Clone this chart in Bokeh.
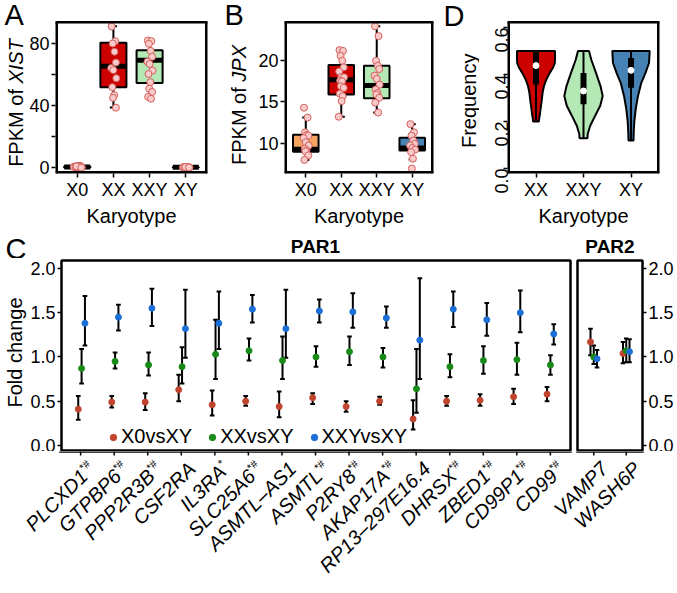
from math import pi
from bokeh.plotting import figure
from bokeh.models import Legend, LegendItem, FixedTicker, Range1d, NumeralTickFormatter, ColumnDataSource
from bokeh.core.properties import value
from bokeh.layouts import row, column
from bokeh.embed import file_html
from bokeh.resources import INLINE

FONT = "Liberation Sans"

# ---------------- data ----------------
karyo4 = ["X0", "XX", "XXY", "XY"]
karyo3 = ["XX", "XXY", "XY"]

# Panel A: FPKM of XIST (samples)
xist_X0 = [0.6, 1.2, 0.3, 0.9, 0.1, 0.5, 1.0, 0.2, 0.7, 0.4, 0.8, 0.0]
xist_XX = [91.2, 81.7, 80.2, 74.9, 67.9, 64.3, 63.0, 57.8, 52.0, 46.8, 45.1, 38.7]
xist_XXY = [82.1, 81.7, 80.0, 75.4, 71.6, 68.4, 66.9, 62.7, 60.5, 55.2, 51.0, 48.9, 45.7, 44.5]
xist_XY = [0.2, 0.4, 0.1, 0.3, 0.0, 0.2, 0.5, 0.1, 0.3, 0.2, 0.4, 0.1]
xist_lo = [0.0, 38.9, 44.6, 0.0]
xist_q1 = [0.1, 52.0, 54.6, 0.1]
xist_med = [0.4, 65.5, 69.4, 0.2]
xist_q3 = [0.8, 80.6, 75.8, 0.3]
xist_hi = [1.2, 91.4, 82.1, 0.5]

# Panel B: FPKM of JPX (samples)
jpx_X0 = [14.3, 13.1, 11.3, 11.0, 10.9, 10.6, 10.1, 9.7, 9.3, 9.1, 9.0, 8.5, 7.95]
jpx_XX = [21.3, 21.2, 20.6, 20.0, 19.2, 18.7, 18.0, 18.0, 17.6, 17.5, 16.9, 16.7, 16.0, 15.7, 15.1, 13.2]
jpx_XXY = [24.2, 23.0, 20.0, 19.4, 19.0, 18.2, 17.8, 17.1, 16.5, 16.1, 15.9, 15.5, 14.9, 13.7]
jpx_XY = [12.3, 11.3, 10.9, 10.3, 9.9, 9.7, 9.4, 9.2, 8.9, 8.1, 6.9]
jpx_lo = [7.95, 13.2, 13.7, 8.0]
jpx_q1 = [8.95, 15.9, 15.45, 9.1]
jpx_med = [9.25, 17.7, 17.0, 9.4]
jpx_q3 = [11.0, 19.5, 19.4, 10.65]
jpx_hi = [13.1, 21.3, 24.2, 12.3]

# Panel D: violin profiles of frequency (level, half width)
vio_XX_lev = [0.20, 0.21, 0.225, 0.255, 0.282, 0.32, 0.351, 0.38, 0.407, 0.43, 0.449, 0.47, 0.50]
vio_XX_w = [0.06, 0.065, 0.078, 0.097, 0.116, 0.137, 0.168, 0.22, 0.29, 0.36, 0.396, 0.40, 0.40]
vio_XXY_lev = [0.129, 0.147, 0.182, 0.225, 0.267, 0.309, 0.351, 0.407, 0.463, 0.50]
vio_XXY_w = [0.084, 0.088, 0.141, 0.246, 0.352, 0.404, 0.358, 0.263, 0.164, 0.116]
vio_XY_lev = [0.119, 0.154, 0.197, 0.253, 0.309, 0.365, 0.407, 0.449, 0.50]
vio_XY_w = [0.053, 0.057, 0.069, 0.099, 0.147, 0.217, 0.305, 0.379, 0.394]
freq_min = [0.20, 0.129, 0.119]
freq_q1 = [0.358, 0.274, 0.344]
freq_med = [0.438, 0.33, 0.418]
freq_q3 = [0.498, 0.407, 0.47]
freq_max = [0.50, 0.50, 0.50]

# Panel C: fold change (PAR1)
par1_genes = ["PLCXD1", "GTPBP6", "PPP2R3B", "CSF2RA", "IL3RA", "SLC25A6", "ASMTL–AS1", "ASMTL",
              "P2RY8", "AKAP17A", "RP13–297E16.4", "DHRSX", "ZBED1", "CD99P1", "CD99"]
par1_marks = ["*#", "*#", "*#", "", "*", "*#", "", "*#", "*#", "*#", "", "*#", "*#", "*#", "*#"]
x0_fc = [0.41, 0.49, 0.49, 0.63, 0.46, 0.50, 0.44, 0.54, 0.44, 0.50, 0.30, 0.50, 0.51, 0.55, 0.58]
x0_lo = [0.29, 0.43, 0.40, 0.50, 0.34, 0.45, 0.32, 0.47, 0.38, 0.46, 0.18, 0.45, 0.45, 0.47, 0.50]
x0_hi = [0.56, 0.56, 0.59, 0.80, 0.62, 0.56, 0.61, 0.59, 0.50, 0.55, 0.51, 0.56, 0.58, 0.64, 0.66]
xx_fc = [0.87, 0.95, 0.91, 0.89, 1.03, 1.07, 0.96, 1.00, 1.06, 1.00, 0.64, 0.89, 0.96, 0.97, 0.91]
xx_lo = [0.70, 0.87, 0.79, 0.70, 0.75, 0.96, 0.75, 0.89, 0.91, 0.88, 0.37, 0.77, 0.81, 0.80, 0.80]
xx_hi = [1.09, 1.05, 1.05, 1.11, 1.42, 1.21, 1.23, 1.12, 1.23, 1.10, 1.09, 1.03, 1.12, 1.16, 1.02]
xxy_fc = [1.38, 1.45, 1.55, 1.32, 1.38, 1.54, 1.32, 1.52, 1.51, 1.44, 1.19, 1.54, 1.42, 1.50, 1.26]
xxy_lo = [1.13, 1.30, 1.35, 0.99, 1.09, 1.39, 0.99, 1.39, 1.33, 1.33, 0.75, 1.34, 1.24, 1.28, 1.14]
xxy_hi = [1.69, 1.59, 1.77, 1.76, 1.74, 1.70, 1.76, 1.65, 1.72, 1.57, 1.89, 1.74, 1.61, 1.75, 1.37]

# Panel C: fold change (PAR2)
par2_genes = ["VAMP7", "WASH6P"]
par2_marks = ["", ""]
p2_x0_fc = [1.17, 1.04]
p2_x0_lo = [1.02, 0.93]
p2_x0_hi = [1.32, 1.17]
p2_xx_fc = [1.00, 1.07]
p2_xx_lo = [0.92, 0.94]
p2_xx_hi = [1.13, 1.21]
p2_xxy_fc = [0.98, 1.06]
p2_xxy_lo = [0.88, 0.94]
p2_xxy_hi = [1.08, 1.20]

series_names = ["X0vsXY", "XXvsXY", "XXYvsXY"]

# ---------------- style ----------------
BOX4 = ["#F4A460", "#CD0000", "#B4E8B4", "#4682B4"]
VIO3 = ["#CD0000", "#B4E8B4", "#4682B4"]
SER3 = ["#C0442E", "#178A17", "#1C6FD6"]
PT_FILL = "#F9CACA"
PT_LINE = "#D4605C"
JIT = [-0.05, 0.05, -0.02, 0.03, 0.07, -0.06, 0.0, 0.08, -0.03, 0.02, -0.01, 0.07, -0.04, 0.04, 0.01, -0.07]

# layout geometry (pixels)
TOP_H = 229
TOP_BOTTOM = 53          # space for x-axis below the top panels
PANEL_TOP = 22           # where the top panels' boxes start
PANEL_H = TOP_H - TOP_BOTTOM - PANEL_TOP
MID_H = 29
C_H = 193
BOT_H = 593 - TOP_H - MID_H - C_H
C1_FRAME = (60, 570)
C2_FRAME = (577, 642)
C1_XR = (0.4, 15.6)
C2_XR = (0.5, 2.5)

A_XR, A_YR = (0.4, 4.6), (-3.8, 94)
B_XR, B_YR = (0.4, 4.6), (6.3, 24.7)
D_XR, D_YR = (0.4, 3.6), (-0.021, 0.623)


def extend_top(yr):
    # frame reaches the canvas top; the panel box itself starts PANEL_TOP px lower
    return (yr[0], yr[1] + (yr[1] - yr[0]) * PANEL_TOP / PANEL_H)


def base(width, height, xr, yr, left, right, top, bottom, yloc="left", xloc="below", title=None):
    kw = dict(width=width, height=height, x_range=Range1d(*xr), y_range=Range1d(*yr),
              output_backend="svg", toolbar_location=None,
              min_border_left=left, min_border_right=right, min_border_top=top,
              min_border_bottom=bottom, y_axis_location=yloc, x_axis_location=xloc)
    if title is not None:
        kw["title"] = title
    p = figure(**kw)
    p.xgrid.visible = False
    p.ygrid.visible = False
    p.outline_line_color = "black"
    p.outline_line_width = 2.5
    p.background_fill_color = "white"
    p.border_fill_color = "white"
    for ax in p.axis:
        ax.axis_line_color = None
        ax.major_tick_line_color = "black"
        ax.major_tick_line_width = 1.5
        ax.major_tick_in = 0
        ax.major_tick_out = 4
        ax.minor_tick_line_color = None
        ax.major_label_text_font = FONT
        ax.major_label_text_font_size = "18px"
        ax.major_label_text_color = "black"
        ax.major_label_standoff = 2
        ax.axis_label_text_font = FONT
        ax.axis_label_text_font_size = "20px"
        ax.axis_label_text_font_style = "normal"
        ax.axis_label_text_color = "black"
        ax.axis_label_standoff = 2
    return p


def panel_box(p, xr, yr):
    p.outline_line_color = None
    p.segment(x0=[xr[0]], y0=[yr[1]], x1=[xr[1]], y1=[yr[1]], line_color="black",
              line_width=2.5, line_cap="square")
    p.segment(x0=[xr[0], xr[1], xr[0]], y0=[yr[0], yr[0], yr[0]],
              x1=[xr[0], xr[1], xr[1]], y1=[yr[1], yr[1], yr[0]], line_color="black", line_width=5)


def strip(w, h, xr=None, top=0, bottom=0):
    # a text-only strip; y is measured in pixels from the canvas bottom edge
    p = figure(width=w, height=h, x_range=Range1d(*(xr if xr else (0, w))),
               y_range=Range1d(bottom, h - top), output_backend="svg", toolbar_location=None,
               x_axis_location=None, y_axis_location=None, min_border=0,
               min_border_top=top, min_border_bottom=bottom, min_border_left=0, min_border_right=0)
    p.grid.visible = False
    p.outline_line_color = None
    p.background_fill_color = "white"
    p.border_fill_color = "white"
    return p


def stext(p, x, ytop, t, size, align="left", baseline="middle", angle=0.0, style="normal"):
    p.text(x=[x], y=[p.height - ytop], text=[t], angle=angle, text_align=align, text_baseline=baseline,
           text_font=value(FONT), text_font_size=value(size), text_font_style=style,
           text_color="black")


def boxplot(p, lo, q1, med, q3, hi, groups, colors, bw=0.72, cw=0.1):
    xs = [i + 1 for i in range(len(groups))]
    p.segment(x0=xs, y0=q3, x1=xs, y1=hi, line_color="black", line_width=2)
    p.segment(x0=xs, y0=q1, x1=xs, y1=lo, line_color="black", line_width=2)
    p.segment(x0=[x - cw for x in xs], y0=hi, x1=[x + cw for x in xs], y1=hi, line_color="black", line_width=2)
    p.segment(x0=[x - cw for x in xs], y0=lo, x1=[x + cw for x in xs], y1=lo, line_color="black", line_width=2)
    p.vbar(x=xs, bottom=q1, top=q3, width=bw, fill_color=colors, line_color="black", line_width=2)
    p.segment(x0=[x - bw / 2 for x in xs], y0=med, x1=[x + bw / 2 for x in xs], y1=med,
              line_color="black", line_width=5)


def points(p, k, vals, spread=1.0):
    xs = [k + JIT[i % len(JIT)] * spread for i in range(len(vals))]
    p.scatter(x=xs, y=vals, size=7, fill_color=PT_FILL, line_color=PT_LINE, line_width=1)


def cat_xaxis(p, cats):
    p.xaxis.ticker = FixedTicker(ticks=[i + 1 for i in range(len(cats))])
    p.xaxis.major_label_overrides = {i + 1: c for i, c in enumerate(cats)}
    p.xaxis.axis_label = "Karyotype"


# ---------------- Panel A ----------------
sA = strip(26, TOP_H, bottom=TOP_BOTTOM)
stext(sA, 4, 15, "A", "29px")
stext(sA, 15, 84.5 + 5.6, "FPKM of", "20px", align="right", angle=pi / 2)
stext(sA, 15, 84.5, "XIST", "20px", align="left", angle=pi / 2, style="italic")

fa = base(191, TOP_H, A_XR, extend_top(A_YR), 26, 10, 0, TOP_BOTTOM)
cat_xaxis(fa, karyo4)
fa.yaxis.ticker = FixedTicker(ticks=[0, 40, 80], minor_ticks=[20, 60])
fa.yaxis.minor_tick_line_color = "black"
fa.yaxis.minor_tick_line_width = 1.5
fa.yaxis.minor_tick_in = 0
fa.yaxis.minor_tick_out = 4
boxplot(fa, xist_lo, xist_q1, xist_med, xist_q3, xist_hi, karyo4, BOX4)
points(fa, 1, xist_X0, 1.6)
points(fa, 2, xist_XX)
points(fa, 3, xist_XXY)
points(fa, 4, xist_XY, 1.3)
panel_box(fa, A_XR, A_YR)

# ---------------- Panel B ----------------
sB = strip(38, TOP_H, bottom=TOP_BOTTOM)
stext(sB, 7, 15, "B", "29px")
stext(sB, 21, 82.6 + 5.6, "FPKM of", "20px", align="right", angle=pi / 2)
stext(sB, 21, 82.6, "JPX", "20px", align="left", angle=pi / 2, style="italic")

fb = base(185, TOP_H, B_XR, extend_top(B_YR), 27, 7, 0, TOP_BOTTOM)
cat_xaxis(fb, karyo4)
fb.yaxis.ticker = FixedTicker(ticks=[10, 15, 20])
boxplot(fb, jpx_lo, jpx_q1, jpx_med, jpx_q3, jpx_hi, karyo4, BOX4)
points(fb, 1, jpx_X0)
points(fb, 2, jpx_XX)
points(fb, 3, jpx_XXY)
points(fb, 4, jpx_XY)
panel_box(fb, B_XR, B_YR)

# ---------------- Panel D ----------------
sD = strip(39, TOP_H, bottom=TOP_BOTTOM)
stext(sD, 3, 16, "D", "29px")
stext(sD, 28, 102, "Frequency", "20px", align="center", angle=pi / 2)

fd = base(198, TOP_H, D_XR, extend_top(D_YR), 28, 18, 0, TOP_BOTTOM)
cat_xaxis(fd, karyo3)
fd.yaxis.ticker = FixedTicker(ticks=[0.0, 0.2, 0.4, 0.6])
fd.yaxis.formatter = NumeralTickFormatter(format="0.0")
fd.yaxis.major_label_orientation = pi / 2
profiles = [(vio_XX_lev, vio_XX_w), (vio_XXY_lev, vio_XXY_w), (vio_XY_lev, vio_XY_w)]
for k, (lev, w) in enumerate(profiles):
    c = k + 1
    xs = [c - h for h in w] + [c + h for h in reversed(w)]
    ys = list(lev) + list(reversed(lev))
    fd.patch(x=xs, y=ys, fill_color=VIO3[k], line_color="black", line_width=2)
dx = [1, 2, 3]
fd.segment(x0=dx, y0=freq_min, x1=dx, y1=freq_max, line_color="black", line_width=2)
fd.segment(x0=dx, y0=freq_q1, x1=dx, y1=freq_q3, line_color="black", line_width=6)
fd.scatter(x=dx, y=freq_med, size=6, fill_color="white", line_color="white")
panel_box(fd, D_XR, D_YR)


# ---------------- Panel C ----------------
def fc_panel(p, n, data, dodge=0.1, cw=0.07):
    rends = []
    for k, (v, lo, hi) in enumerate(data):
        xs = [i + 1 + (k - 1) * dodge for i in range(n)]
        p.segment(x0=xs, y0=lo, x1=xs, y1=hi, line_color="black", line_width=2)
        p.segment(x0=[x - cw for x in xs], y0=hi, x1=[x + cw for x in xs], y1=hi, line_color="black", line_width=2)
        p.segment(x0=[x - cw for x in xs], y0=lo, x1=[x + cw for x in xs], y1=lo, line_color="black", line_width=2)
    for k, (v, lo, hi) in enumerate(data):
        xs = [i + 1 + (k - 1) * dodge for i in range(n)]
        r = p.scatter(x=xs, y=v, size=6, fill_color=SER3[k], line_color=SER3[k])
        rends.append(r)
    p.yaxis.ticker = FixedTicker(ticks=[0.0, 0.5, 1.0, 1.5, 2.0])
    p.yaxis.formatter = NumeralTickFormatter(format="0.0")
    return rends


YR = (-0.068, 2.09)

# strip above panel C: letter and facet titles
sTop = strip(677, MID_H)
stext(sTop, 5, 3, "C", "29px", baseline="top")
stext(sTop, (C1_FRAME[0] + C1_FRAME[1]) / 2, 6, "PAR1", "19px", align="center", baseline="top", style="bold")
stext(sTop, (C2_FRAME[0] + C2_FRAME[1]) / 2, 6, "PAR2", "19px", align="center", baseline="top", style="bold")

sFC = strip(27, C_H, top=2)
stext(sFC, 14, 94, "Fold change", "20px", align="center", angle=pi / 2)

fc1 = base(546, C_H, C1_XR, YR, C1_FRAME[0] - 27, 573 - C1_FRAME[1], 2, 0, xloc=None)
r1 = fc_panel(fc1, 15, [(x0_fc, x0_lo, x0_hi), (xx_fc, xx_lo, xx_hi), (xxy_fc, xxy_lo, xxy_hi)])
legend = Legend(items=[LegendItem(label=series_names[k], renderers=[r1[k]]) for k in range(3)],
                location=(44, 3), orientation="horizontal", background_fill_alpha=0,
                border_line_color=None, label_text_font=FONT, label_text_font_size="20px",
                label_text_color="black", glyph_width=16, glyph_height=20, label_height=20,
                label_standoff=0, spacing=12, padding=0, margin=0)
fc1.add_layout(legend)

fc2 = base(104, C_H, C2_XR, YR, C2_FRAME[0] - 573, 677 - C2_FRAME[1], 2, 0, yloc="right", xloc=None)
fc_panel(fc2, 2, [(p2_x0_fc, p2_x0_lo, p2_x0_hi), (p2_xx_fc, p2_xx_lo, p2_xx_hi),
                  (p2_xxy_fc, p2_xxy_lo, p2_xxy_hi)])

# strip below panel C: frame bottom edge, ticks and gene labels (x in PAR1 data units)
k1 = (C1_FRAME[1] - C1_FRAME[0]) / (C1_XR[1] - C1_XR[0])
k2 = (C2_FRAME[1] - C2_FRAME[0]) / (C2_XR[1] - C2_XR[0])
bot_xr = (C1_XR[0] - C1_FRAME[0] / k1, C1_XR[1] + (677 - C1_FRAME[1]) / k1)


def c2_to_c1(x):
    px = C2_FRAME[0] + (x - C2_XR[0]) * k2
    return C1_XR[0] + (px - C1_FRAME[0]) / k1


sBot = strip(677, BOT_H, bot_xr)
H = BOT_H
sBot.segment(x0=[C1_XR[0], c2_to_c1(C2_XR[0])], y0=[H, H], x1=[C1_XR[1], c2_to_c1(C2_XR[1])], y1=[H, H],
             line_color="black", line_width=2.5, line_cap="square")
gx = [i + 1 for i in range(len(par1_genes))] + [c2_to_c1(j + 1) for j in range(len(par2_genes))]
sBot.segment(x0=gx, y0=[H] * len(gx), x1=gx, y1=[H - 4] * len(gx), line_color="black", line_width=1.5)
names = par1_genes + par2_genes
marks = par1_marks + par2_marks
SUPW = {"*#": 10.4, "*": 4.3}
d = [SUPW.get(m, 0.0) * 0.7071 for m in marks]
src_main = ColumnDataSource(dict(x=gx, y=[H - 6] * len(gx), text=names,
                                 xo=[3 - v for v in d], yo=[v for v in d]))
sBot.text(x="x", y="y", text="text", x_offset="xo", y_offset="yo", source=src_main, angle=pi / 4,
          text_align="right", text_baseline="top", text_font=value(FONT), text_font_size=value("20px"),
          text_font_style="italic", text_color="black")
sup_idx = [i for i, m in enumerate(marks) if m]
src_sup = ColumnDataSource(dict(x=[gx[i] for i in sup_idx], y=[H - 6] * len(sup_idx),
                                text=[marks[i] for i in sup_idx]))
sBot.text(x="x", y="y", text="text", source=src_sup, angle=pi / 4, x_offset=3,
          text_align="right", text_baseline="top", text_font=value(FONT), text_font_size=value("11px"),
          text_font_style="italic", text_color="black")

layout = column(row(sA, fa, sB, fb, sD, fd), sTop, row(sFC, fc1, fc2), sBot)
open("out.html", "w").write(file_html(layout, INLINE))
